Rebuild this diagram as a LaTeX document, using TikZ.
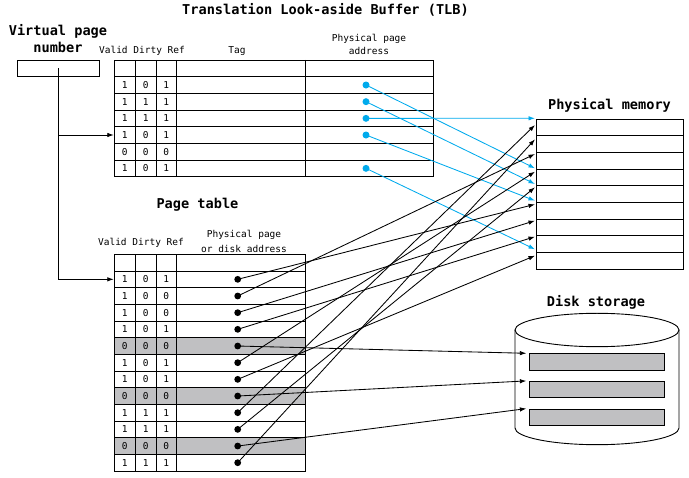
\documentclass[tikz,border=0pt]{standalone}
\usepackage{fontspec}
\newfontfamily\monofont{DejaVu Sans Mono}
\usetikzlibrary{arrows.meta}
\definecolor{tlbblue}{RGB}{0,170,236}
\definecolor{rowgray}{RGB}{192,192,194}
\begin{document}
\begin{tikzpicture}[x=1pt,y=-1pt,
  tblline/.style={draw=black,line width=0.9pt},
  smalltext/.style={font=\monofont\fontsize{9.5}{11}\selectfont,inner sep=0pt},
  heading/.style={font=\monofont\bfseries\fontsize{13.6}{16}\selectfont,inner sep=0pt},
  celltext/.style={font=\monofont\fontsize{9.5}{11}\selectfont,inner sep=0pt},
  bluedot/.style={circle,fill=tlbblue,inner sep=0pt,minimum size=7pt},
  blackdot/.style={circle,fill=black,inner sep=0pt,minimum size=6.8pt},
  bluearrow/.style={draw=tlbblue,line width=0.85pt,-{Latex[length=6.5pt,width=4.5pt]}},
  blackarrow/.style={draw=black,line width=0.85pt,-{Latex[length=6.5pt,width=4.5pt]}},
  diskrect/.style={draw=black,line width=0.9pt,fill=rowgray,minimum width=135pt,minimum height=16.5pt,inner sep=0pt},
]
\useasboundingbox (0,0) rectangle (689,478);

% ---------- titles ----------
\node[heading] (title) at (325.5,10) {Translation Look-aside Buffer (TLB)};
\node[heading] (vplabelA) at (58,31.5) {Virtual page};
\node[heading] (vplabelB) at (58,47.7) {number};
\node[heading] (pmlabel) at (609.5,105.7) {Physical memory};
\node[heading] (dslabel) at (596,302) {Disk storage};
\node[heading] (ptlabel) at (197.5,205) {Page table};

% ---------- virtual page box ----------
\node[tblline,draw,minimum width=82pt,minimum height=16pt,inner sep=0pt] (vpbox) at (58.3,68.3) {};

% ---------- TLB ----------
\node[smalltext] (tlbhA) at (142,51) {Valid Dirty Ref};
\node[smalltext] (tlbhB) at (237,51) {Tag};
\node[smalltext] (tlbhC) at (369,39.3) {Physical page};
\node[smalltext] (tlbhD) at (369,51) {address};
\draw[tblline] (114,60) rectangle (433.3,176.67);
\foreach \x in {135.3,156,176.3,305.3} \draw[tblline] (\x,60) -- (\x,176.67);
\foreach \k in {0,...,5} \draw[tblline] (114,{76.67+16.67*\k}) -- (433.3,{76.67+16.67*\k});
\foreach \v/\d/\r [count=\i] in {1/0/1,1/1/1,1/1/1,1/0/1,0/0/0,1/0/1}{
  \node[celltext] (tv\i) at (124.65,{76.67+16.67*(\i-0.5)}) {\v};
  \node[celltext] (td\i) at (145.65,{76.67+16.67*(\i-0.5)}) {\d};
  \node[celltext] (tr\i) at (166.15,{76.67+16.67*(\i-0.5)}) {\r};
}
\foreach \i in {1,2,3,4,6} \node[bluedot] (t\i) at (366,{76.67+16.67*(\i-0.5)}) {};

% ---------- Page table ----------
\node[smalltext] (pthA) at (141,243.3) {Valid Dirty Ref};
\node[smalltext] (pthB) at (244,235.3) {Physical page};
\node[smalltext] (pthC) at (244,249.3) {or disk address};
\foreach \i in {5,8,11} \fill[rowgray] (114,{271+16.67*(\i-1)}) rectangle (305.3,{271+16.67*\i});
\draw[tblline] (114,254.3) rectangle (305.3,471);
\foreach \x in {135.3,156,176.3} \draw[tblline] (\x,254.3) -- (\x,471);
\foreach \k in {0,...,11} \draw[tblline] (114,{271+16.67*\k}) -- (305.3,{271+16.67*\k});
\foreach \v/\d/\r [count=\i] in {1/0/1,1/0/0,1/0/0,1/0/1,0/0/0,1/0/1,1/0/1,0/0/0,1/1/1,1/1/1,0/0/0,1/1/1}{
  \node[celltext] (pv\i) at (124.65,{271+16.67*(\i-0.5)}) {\v};
  \node[celltext] (pd\i) at (145.65,{271+16.67*(\i-0.5)}) {\d};
  \node[celltext] (pr\i) at (166.15,{271+16.67*(\i-0.5)}) {\r};
}
\foreach \i in {1,...,12} \node[blackdot] (p\i) at (237.7,{271+16.67*(\i-0.5)}) {};

% ---------- Physical memory ----------
\node[tblline,draw,anchor=north west,minimum width=146.4pt,minimum height=149.7pt,inner sep=0pt] (pmem) at (536.3,119.3) {};
\foreach \k in {1,...,8} \draw[tblline] (536.3,{119.3+16.63*\k}) -- (682.7,{119.3+16.63*\k});
\coordinate (m1) at (535,125);
\coordinate (m2) at (535,139.3);
\coordinate (m3) at (535,154);
\coordinate (m4) at (535,171.7);
\coordinate (m5) at (535,187.3);
\coordinate (m6) at (535,204.3);
\coordinate (m7) at (535,220.7);
\coordinate (m8) at (535,236.7);
\coordinate (m9) at (535,255.7);
\coordinate (b1) at (535,118.3);
\coordinate (b2) at (535,168.3);
\coordinate (b3) at (535,184);
\coordinate (b4) at (535,200.7);
\coordinate (b5) at (535,249.3);

% ---------- Disk storage ----------
\draw[line width=0.9pt] (597,330) ellipse [x radius=82pt, y radius=16.7pt];
\draw[line width=0.9pt] (515,330) -- (515,428) arc[start angle=180, end angle=360, x radius=82pt, y radius=16.7pt] -- (679,330);
\node[diskrect] (d1) at (596.8,362) {};
\node[diskrect] (d2) at (596.8,389.6) {};
\node[diskrect] (d3) at (596.8,417.3) {};
\coordinate (d1in) at ([xshift=-2.5pt]d1.north west);
\coordinate (d2in) at ([xshift=-2.5pt]d2.north west);
\coordinate (d3in) at ([xshift=-2.5pt]d3.north west);

% ---------- virtual page connectors ----------
\coordinate (tlbin) at (113.8,135);
\coordinate (ptin) at (113.8,279.33);
\draw[blackarrow] (vpbox.center) |- (ptin);
\draw[blackarrow] (vpbox.center |- tlbin) -- (tlbin);

% ---------- TLB -> physical memory ----------
\draw[bluearrow] (t1.center) -- (b2);
\draw[bluearrow] (t2.center) -- (b3);
\draw[bluearrow] (t3.center) -- (b1);
\draw[bluearrow] (t4.center) -- (b4);
\draw[bluearrow] (t6.center) -- (b5);

% ---------- page table -> physical memory / disk ----------
\draw[blackarrow] (p1.center) -- (m6);
\draw[blackarrow] (p2.center) -- (m3);
\draw[blackarrow] (p3.center) -- (m7);
\draw[blackarrow] (p4.center) -- (m8);
\draw[blackarrow] (p5.center) -- (d1in);
\draw[blackarrow] (p6.center) -- (m4);
\draw[blackarrow] (p7.center) -- (m9);
\draw[blackarrow] (p8.center) -- (d2in);
\draw[blackarrow] (p9.center) -- (m1);
\draw[blackarrow] (p10.center) -- (m5);
\draw[blackarrow] (p11.center) -- (d3in);
\draw[blackarrow] (p12.center) -- (m2);
\end{tikzpicture}
\end{document}
